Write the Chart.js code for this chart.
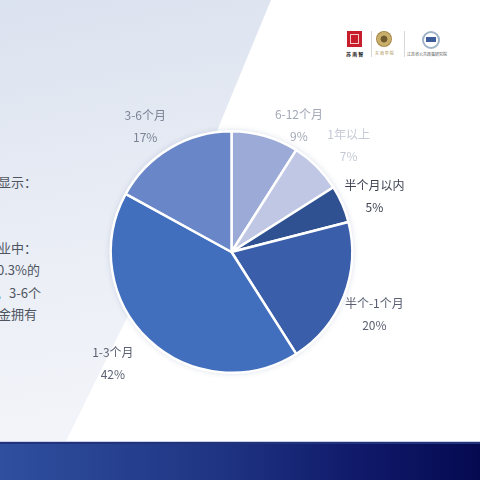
<!DOCTYPE html>
<html lang="zh">
<head>
<meta charset="UTF-8">
<title>资金周期分布</title>
<script src="https://cdn.jsdelivr.net/npm/chart.js"></script>
<style>
  html, body { margin: 0; padding: 0; }
  body { width: 480px; height: 480px; position: relative; overflow: hidden; background: #fff;
         font-family: "Noto Sans CJK SC", "Noto Sans", sans-serif; }
  .bg-left { position: absolute; left: 0; top: 0; width: 480px; height: 441px;
             background: linear-gradient(170deg, #dbe2ef 0%, #e9edf5 45%, #f6f7fb 100%);
             clip-path: polygon(0 0, 271px 0, 205px 160px, 66px 441px, 0 441px); }
  .footer { position: absolute; left: 0; top: 441px; width: 480px; height: 39px;
            background: linear-gradient(90deg, #2f4f9f 0%, #1f3583 45%, #10196a 75%, #050a50 100%);
            border-top: 1px solid #c9d1e6; box-shadow: inset 0 2px 0 #22337c; }
  .side { position: absolute; color: #4f5461; font-size: 13px; white-space: nowrap; line-height: 1; }
  .logos { position: absolute; left: 344px; top: 29px; width: 115px; height: 32px; }
  .logos .red { position: absolute; left: 3px; top: 2px; width: 15px; height: 16px; background: #c81d2a; }
  .logos .red::after { content: ""; position: absolute; left: 3px; top: 3px; width: 9px; height: 10px;
                       border: 1px solid #f3c9c9; box-sizing: border-box; }
  .logos .div { position: absolute; top: 2px; width: 1px; height: 26px; background: #d8d8d8; }
  .logos .gold { position: absolute; left: 32px; top: 2px; width: 16px; height: 16px; border-radius: 50%;
                 background: radial-gradient(circle, #6e5a2c 0 30%, #c9ad6a 32% 60%, #a88a4a 62% 100%); }
  .logos .blue { position: absolute; left: 78px; top: 2px; width: 14px; height: 14px; border-radius: 50%;
                 border: 2px solid #9fb3c8; background: #fff; }
  .logos .blue::after { content: ""; position: absolute; left: 2px; top: 4px; width: 10px; height: 5px; background: #3d5c9c; }
  .logos .tiny { position: absolute; font-size: 4px; line-height: 1; white-space: nowrap; }
  #chart { position: absolute; left: 0; top: 0; }
</style>
</head>
<body>
<div class="bg-left"></div>
<div class="footer"></div>

<div class="side" style="right: 443px; top: 175px;">调研数据显示：</div>
<div class="side" style="right: 443px; top: 241px;">在受访企业中：</div>
<div class="side" style="right: 440px; top: 263px;">其中有30.3%的</div>
<div class="side" style="right: 439px; top: 286px;">个月以内，3-6个</div>
<div class="side" style="right: 443px; top: 307px;">的企业资金拥有</div>

<div class="logos">
  <div class="red"></div>
  <div class="tiny" style="left: 2px; top: 22px; color: #222; font-size: 5px; font-weight: bold;">苏 南 智</div>
  <div class="div" style="left: 27px;"></div>
  <div class="gold"></div>
  <div class="tiny" style="left: 31px; top: 22px; color: #a88a4a;">东 南 学 院</div>
  <div class="div" style="left: 60px;"></div>
  <div class="blue"></div>
  <div class="tiny" style="left: 63px; top: 23px; color: #555;">江苏省公共政策研究院</div>
</div>

<canvas id="chart" width="480" height="480"></canvas>

<script>
// 资金周期分布（%），从正上方顺时针
const categories = ['6-12个月', '1年以上', '半个月以内', '半个-1个月', '1-3个月', '3-6个月'];
const shares = [9, 7, 5, 20, 42, 17];

const sliceColors = ['#9baad7', '#bfc7e4', '#2f5192', '#3a5ea9', '#426ebe', '#6986c8'];
const labelColors = ['#a3a8b6', '#c6cad6', '#3f4252', '#5a6072', '#5d6374', '#7b8396'];
// small nudges so labels sit where the original placed them
const labelShift = [[24, 23], [7, 4], [0, 6], [-2, 5], [-12, -2], [-7, 8]];

// soft shadow behind the pie
const pieShadow = {
  id: 'pieShadow',
  beforeDatasetsDraw(chart) {
    const arc = chart.getDatasetMeta(0).data[0];
    if (!arc) return;
    const { x, y, outerRadius } = arc.getProps(['x', 'y', 'outerRadius'], true);
    const ctx = chart.ctx;
    ctx.save();
    ctx.shadowColor = 'rgba(60, 80, 130, 0.25)';
    ctx.shadowBlur = 6;
    ctx.beginPath();
    ctx.arc(x, y, outerRadius, 0, Math.PI * 2);
    ctx.fillStyle = '#ffffff';
    ctx.fill();
    ctx.restore();
  }
};

// two-line outside labels: category name + percent
const outsideLabels = {
  id: 'outsideLabels',
  afterDatasetsDraw(chart) {
    const ctx = chart.ctx;
    const meta = chart.getDatasetMeta(0);
    ctx.save();
    ctx.font = '12px "Noto Sans CJK SC", sans-serif';
    ctx.textAlign = 'center';
    ctx.textBaseline = 'middle';
    meta.data.forEach((arc, i) => {
      const p = arc.getProps(['x', 'y', 'startAngle', 'endAngle', 'outerRadius'], true);
      const mid = (p.startAngle + p.endAngle) / 2;
      const r = p.outerRadius + 35;
      const lx = p.x + Math.cos(mid) * r + labelShift[i][0];
      const ly = p.y + Math.sin(mid) * r + labelShift[i][1];
      ctx.fillStyle = labelColors[i];
      ctx.fillText(categories[i], lx, ly - 11);
      ctx.fillText(shares[i] + '%', lx, ly + 11);
    });
    ctx.restore();
  }
};

new Chart(document.getElementById('chart').getContext('2d'), {
  type: 'pie',
  data: {
    labels: categories,
    datasets: [{
      data: shares,
      backgroundColor: sliceColors,
      borderColor: '#ffffff',
      borderWidth: 2.5
    }]
  },
  options: {
    responsive: false,
    animation: false,
    layout: { padding: { left: 109, right: 126, top: 130, bottom: 106 } },
    plugins: {
      legend: { display: false },
      tooltip: { enabled: false }
    }
  },
  plugins: [pieShadow, outsideLabels]
});
</script>
</body>
</html>
